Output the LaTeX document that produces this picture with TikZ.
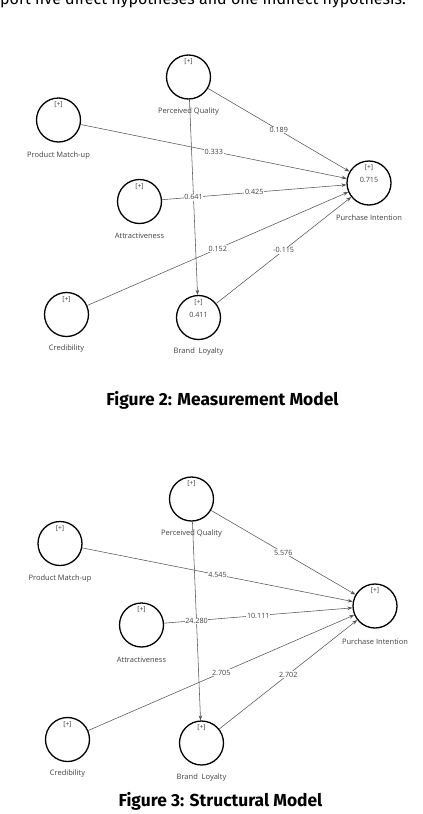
\documentclass[tikz,border=0pt]{standalone}
\usepackage{fontspec}
\setmainfont{Open Sans}
\newfontfamily\capfont{Fira Sans}
\usetikzlibrary{arrows.meta}
\definecolor{edgegray}{HTML}{555555}
\definecolor{txtgray}{HTML}{404040}
\tikzset{
  lv/.style={circle, draw=black, line width=1.3pt, minimum size=44pt, inner sep=0pt},
  plus/.style={font=\fontsize{6.8}{8}\selectfont, text=txtgray, inner sep=0pt},
  rsq/.style={font=\fontsize{7.2}{8}\selectfont, text=txtgray, inner sep=0pt},
  lvname/.style={font=\fontsize{7.5}{9}\selectfont, text=txtgray, inner sep=0pt},
  path/.style={draw=edgegray, line width=0.55pt, -{Stealth[length=5pt,width=3.6pt]}},
  coef/.style={font=\fontsize{7.2}{8}\selectfont, text=txtgray, fill=white, inner sep=0.6pt, midway},
  caption/.style={font=\capfont\bfseries\fontsize{17.4}{20}\selectfont, inner sep=0pt}
}
\begin{document}
\begin{tikzpicture}[x=1pt,y=-1pt]
\useasboundingbox (0,0) rectangle (423,814);
% top cut-off text
\node[anchor=base west, font=\capfont\fontsize{16}{18}\selectfont, inner sep=0pt] (toptext) at (0,4) {port five direct hypotheses and one indirect hypothesis.};

% ---------------- Figure 2 ----------------
\node[lv] (pqA) at (188.5,77) {};
\node[lv] (pmA) at (58.5,120) {};
\node[lv] (atA) at (139.5,201.5) {};
\node[lv] (piA) at (369,183) {};
\node[lv] (crA) at (66.5,314.5) {};
\node[lv] (blA) at (198.5,317.5) {};

\foreach \n in {pqA,pmA,atA,piA,crA,blA}{
  \node[plus] (\n-plus) at ([yshift=15pt]\n.center) {[+]};
}
\node[rsq] (piA-r2) at ([yshift=3pt]piA.center) {0.715};
\node[rsq] (blA-r2) at ([yshift=3pt]blA.center) {0.411};

\node[lvname] (pqA-name) at ([yshift=-35pt]pqA.center) {Perceived Quality};
\node[lvname] (pmA-name) at ([yshift=-35.5pt]pmA.center) {Product Match-up};
\node[lvname] (atA-name) at ([yshift=-34.5pt]atA.center) {Attractiveness};
\node[lvname] (piA-name) at ([yshift=-35pt]piA.center) {Purchase Intention};
\node[lvname] (crA-name) at ([yshift=-34.5pt]crA.center) {Credibility};
\node[lvname] (blA-name) at ([yshift=-34.5pt]blA.center) {Brand\ \ Loyalty};

\draw[path] (pqA) -- node[coef] (eA1) {0.189} (piA);
\draw[path] (pmA) -- node[coef] (eA2) {0.333} (piA);
\draw[path] (atA) -- node[coef] (eA3) {0.425} (piA);
\draw[path] (crA) -- node[coef] (eA4) {0.152} (piA);
\draw[path] (blA) -- node[coef] (eA5) {-0.115} (piA);
\draw[path] (pqA) -- node[coef] (eA6) {0.641} (blA);

\node[caption] (capA) at (222.5,400) {Figure 2: Measurement Model};

% ---------------- Figure 3 ----------------
\node[lv] (pqB) at (191.5,499) {};
\node[lv] (pmB) at (60,543.5) {};
\node[lv] (atB) at (141.5,625) {};
\node[lv] (piB) at (375,606) {};
\node[lv] (crB) at (67.5,739.5) {};
\node[lv] (blB) at (201.5,743) {};

\foreach \n in {pqB,pmB,atB,piB,crB,blB}{
  \node[plus] (\n-plus) at ([yshift=15pt]\n.center) {[+]};
}

\node[lvname] (pqB-name) at ([yshift=-35pt]pqB.center) {Perceived Quality};
\node[lvname] (pmB-name) at ([yshift=-35pt]pmB.center) {Product Match-up};
\node[lvname] (atB-name) at ([yshift=-35pt]atB.center) {Attractiveness};
\node[lvname] (piB-name) at ([yshift=-36pt]piB.center) {Purchase Intention};
\node[lvname] (crB-name) at ([yshift=-34.5pt]crB.center) {Credibility};
\node[lvname] (blB-name) at ([yshift=-35pt]blB.center) {Brand\ \ Loyalty};

\draw[path] (pqB) -- node[coef] (eB1) {5.576} (piB);
\draw[path] (pmB) -- node[coef] (eB2) {4.545} (piB);
\draw[path] (atB) -- node[coef] (eB3) {10.111} (piB);
\draw[path] (crB) -- node[coef] (eB4) {2.705} (piB);
\draw[path] (blB) -- node[coef] (eB5) {2.702} (piB);
\draw[path] (pqB) -- node[coef] (eB6) {24.280} (blB);

\node[caption] (capB) at (220.5,801) {Figure 3: Structural Model};
\end{tikzpicture}
\end{document}
